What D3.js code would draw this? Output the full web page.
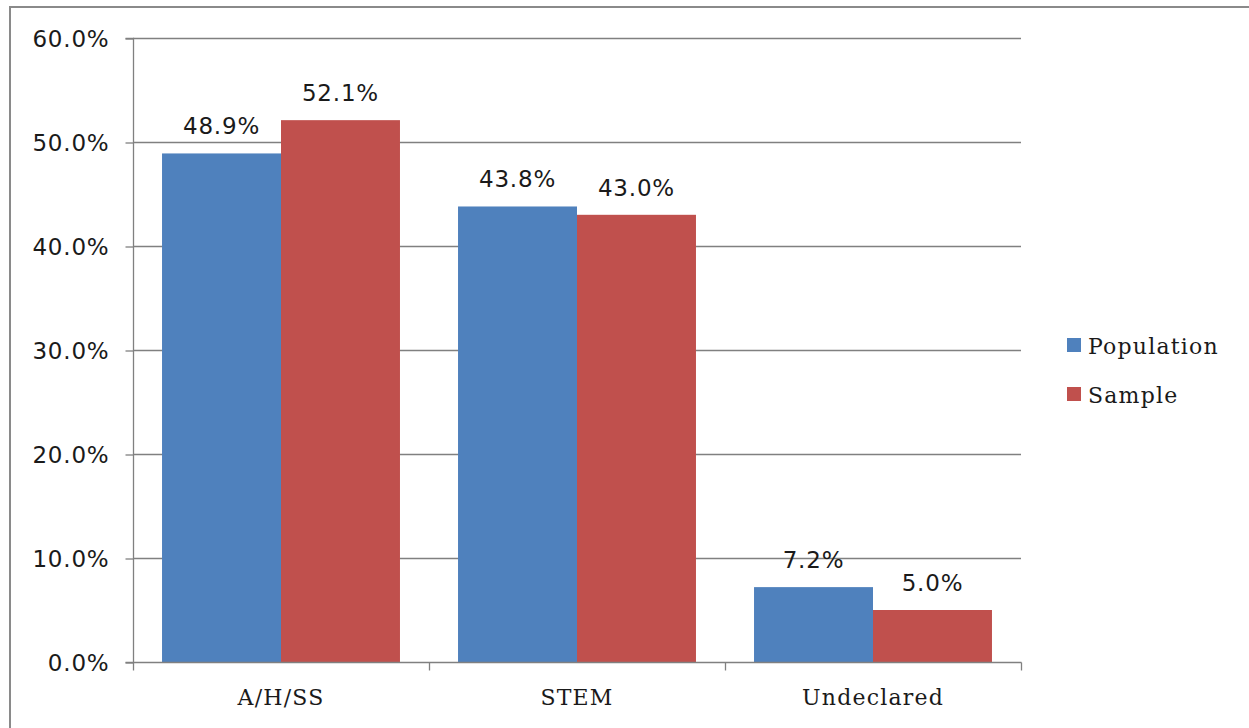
<!DOCTYPE html>
<html>
<head>
<meta charset="utf-8">
<script src="https://cdn.jsdelivr.net/npm/d3@7"></script>
<style>
  html, body { margin: 0; padding: 0; background: #fff; }
  svg { display: block; }
  .num { font-family: "DejaVu Sans", sans-serif; font-size: 23px; fill: #1a1a1a; letter-spacing: 0.8px; }
  .ser { font-family: "DejaVu Serif", serif; font-size: 22px; fill: #1a1a1a; letter-spacing: 1.2px; }
</style>
</head>
<body>
<script>
// Share of students by field: population vs. sample
const categories = ["A/H/SS", "STEM", "Undeclared"];
const seriesNames = ["Population", "Sample"];
const population = [48.9, 43.8, 7.2];
const sample = [52.1, 43.0, 5.0];
const yTicks = [0, 10, 20, 30, 40, 50, 60];
const colors = ["#4F81BD", "#C0504D"];

const W = 1249, H = 728;
const plot = { left: 133, right: 1021, top: 38, bottom: 662 };
const lineColor = "#808080";

const svg = d3.select("body").append("svg").attr("width", W).attr("height", H);

// chart frame (extends past the visible page on right and bottom)
svg.append("rect")
  .attr("x", 10).attr("y", 7).attr("width", W + 50).attr("height", H + 50)
  .attr("fill", "none").attr("stroke", "#8a8a8a").attr("stroke-width", 2);

const y = d3.scaleLinear().domain([0, 60]).range([plot.bottom, plot.top]);
const x = d3.scaleBand().domain(categories).range([plot.left, plot.right]).padding(0);
const xs = d3.scaleBand().domain(seriesNames).range([0, x.bandwidth()])
  .paddingInner(0).paddingOuter(0.244);

// horizontal gridlines
svg.append("g").selectAll("line").data(yTicks.filter(d => d > 0)).join("line")
  .attr("x1", plot.left).attr("x2", plot.right)
  .attr("y1", d => y(d) + 0.5).attr("y2", d => y(d) + 0.5)
  .attr("stroke", lineColor).attr("stroke-width", 1.3);

// y axis
const yAxis = svg.append("g").attr("transform", `translate(${plot.left + 0.5},0)`)
  .call(d3.axisLeft(y).tickValues(yTicks).tickSize(8).tickPadding(16)
    .tickFormat(d => d.toFixed(1) + "%"));
yAxis.select(".domain").attr("stroke", lineColor).attr("stroke-width", 1.3)
  .attr("d", `M-8,${plot.top + 0.5}H0V${plot.bottom + 0.5}H-8`);
yAxis.selectAll(".tick line").attr("stroke", lineColor).attr("stroke-width", 1.3).attr("transform", "translate(0,0.5)");
yAxis.selectAll(".tick text").attr("class", "num").attr("fill", null).attr("font-family", null).attr("font-size", null).attr("dy", "0.36em");

// bars
const rows = categories.map((c, i) => ({ cat: c, vals: [population[i], sample[i]] }));
const groups = svg.append("g").selectAll("g").data(rows).join("g")
  .attr("transform", d => `translate(${x(d.cat)},0)`);

groups.selectAll("rect").data(d => d.vals.map((v, j) => ({ v, s: seriesNames[j], j }))).join("rect")
  .attr("x", d => xs(d.s))
  .attr("width", xs.bandwidth())
  .attr("y", d => y(d.v))
  .attr("height", d => y(0) - y(d.v))
  .attr("fill", d => colors[d.j]);

groups.selectAll("text").data(d => d.vals.map((v, j) => ({ v, s: seriesNames[j], j }))).join("text")
  .attr("class", "num")
  .attr("text-anchor", "middle")
  .attr("x", d => xs(d.s) + xs.bandwidth() / 2)
  .attr("y", d => y(d.v) - 19)
  .text(d => d.v.toFixed(1) + "%");

// x axis
const xAxis = svg.append("g").attr("transform", `translate(0,${plot.bottom + 0.5})`)
  .call(d3.axisBottom(x).tickSize(0).tickPadding(27));
xAxis.select(".domain").attr("stroke", lineColor).attr("stroke-width", 1.3).attr("d", `M${plot.left},0H${plot.right + 0.5}`);
xAxis.selectAll(".tick text").attr("class", "ser").attr("fill", null).attr("font-family", null).attr("font-size", null).attr("dy", "0.71em");
// category separators
const edges = categories.map(c => x(c)).concat([plot.right]);
xAxis.append("g").selectAll("line").data(edges).join("line")
  .attr("x1", d => Math.round(d) + 0.5).attr("x2", d => Math.round(d) + 0.5)
  .attr("y1", 0).attr("y2", 8).attr("stroke", lineColor).attr("stroke-width", 1.3);

// legend
const legend = svg.append("g").attr("transform", "translate(1067,338)");
const li = legend.selectAll("g").data(seriesNames).join("g")
  .attr("transform", (d, i) => `translate(0,${i * 49})`);
li.append("rect").attr("width", 14).attr("height", 14).attr("fill", (d, i) => colors[i]);
li.append("text").attr("class", "ser").attr("x", 21).attr("y", 16).text(d => d);
</script>
</body>
</html>
